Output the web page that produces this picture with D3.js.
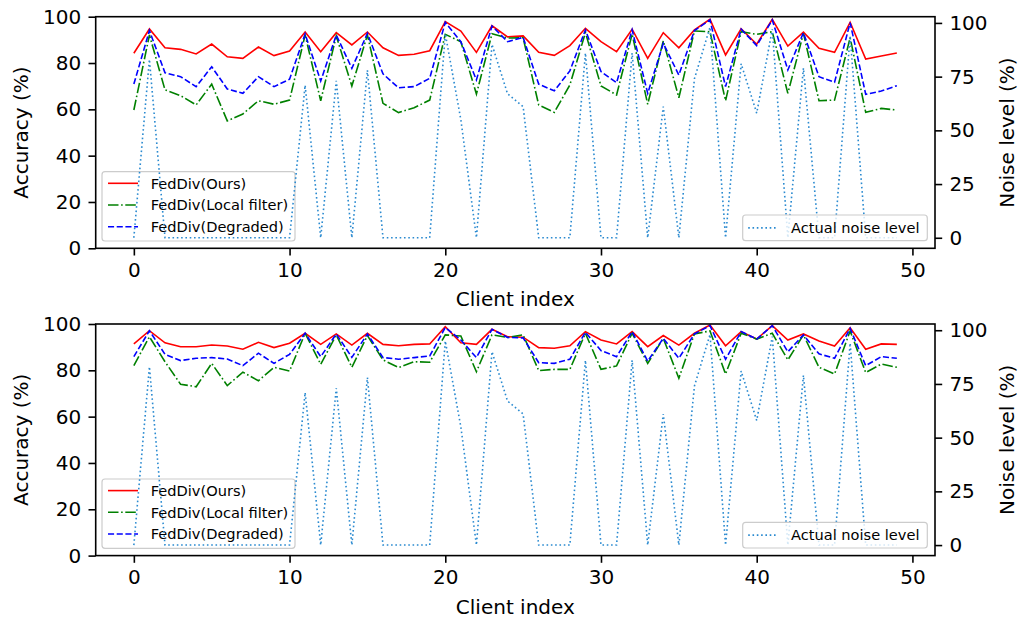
<!DOCTYPE html>
<html><head><meta charset="utf-8">
<script src="https://cdn.jsdelivr.net/npm/d3@7"></script>
<style>body{margin:0;background:#fff} text{font-family:"DejaVu Sans",sans-serif}</style>
</head><body><svg id="c" width="1023" height="622"></svg>
<script>
// ---------- data ----------
const clients = d3.range(50);
const xTicks = [0, 10, 20, 30, 40, 50];
const accTicks = [0, 20, 40, 60, 80, 100];
const noiseTicks = [0, 25, 50, 75, 100];
const seriesNames = ["FedDiv(Ours)", "FedDiv(Local filter)", "FedDiv(Degraded)"];
const noiseName = "Actual noise level";

const noiseLevel = [0,83,0,0,0,0,0,0,0,0, 0,71,0,73,0,78,0,0,0,0,
  95,55,0,90,67,61,0,0,0,86, 0,0,86,0,61,0,74,98,0,81,
  58,97,0,79,0,0,94,0,0,0];

const topOurs = [84.2,94.7,86.6,85.9,83.9,88.2,82.7,82.0,86.9,83.2,
  85.2,93.4,84.9,93.1,87.8,93.4,86.6,83.3,83.8,85.3,
  97.9,93.8,84.6,96.1,91.3,91.7,84.6,83.3,87.5,95.0,
  89.2,84.9,94.6,82.0,93.1,86.6,94.3,98.9,83.5,94.8,
  88.1,98.9,87.3,93.3,86.4,84.6,97.6,81.7,83.0,84.3];
const topLocal = [59.7,92.1,68.4,65.9,61.9,70.9,55.0,58.0,63.7,62.2,
  64.0,92.1,63.7,91.7,70.1,92.1,62.6,58.6,60.7,64.0,
  92.4,89.2,66.6,92.6,90.8,90.9,61.9,58.7,70.5,93.1,
  70.1,66.2,92.5,62.2,89.6,65.0,93.8,93.5,63.7,93.5,
  92.4,93.5,66.9,92.8,63.7,64.0,90.9,58.7,60.4,59.7];
const topDegraded = [70.9,94.0,75.8,74.1,69.8,78.4,68.8,66.9,74.1,69.8,
  73.0,92.5,72.2,92.1,77.7,92.8,75.3,69.3,69.8,73.4,
  97.6,89.2,72.7,96.0,89.2,91.1,70.9,68.0,76.6,94.3,
  76.3,71.5,94.3,66.9,88.5,74.8,94.0,98.6,69.8,94.6,
  87.5,98.6,77.0,93.1,74.1,71.7,97.4,66.5,67.9,70.2];

const bottomOurs = [91.4,97.1,91.9,90.2,90.2,90.9,90.5,89.1,92.1,89.8,
  91.7,96.0,91.2,95.7,90.9,96.0,91.2,90.6,91.2,91.4,
  98.8,91.9,91.2,97.7,94.5,94.3,89.8,89.5,90.6,96.7,
  93.1,91.4,96.7,90.2,95.0,90.9,96.0,99.6,90.6,96.7,
  93.5,99.3,93.1,95.7,92.7,90.5,98.4,89.1,91.4,91.2];
const bottomLocal = [82.0,94.5,83.7,74.0,72.9,83.0,73.4,79.2,75.5,81.3,
  79.7,96.0,82.6,95.3,81.3,95.0,84.5,81.2,83.7,83.5,
  95.3,94.8,79.4,95.3,94.2,95.3,79.9,80.4,80.4,96.0,
  80.4,81.9,96.0,83.0,93.8,76.6,95.7,97.0,78.4,96.0,
  93.5,96.0,84.5,95.3,81.3,78.4,97.0,79.0,82.7,81.3];
const bottomDegraded = [85.9,97.1,86.9,84.2,85.2,85.5,84.9,82.0,87.4,83.0,
  86.9,96.0,85.9,95.7,85.6,95.7,85.5,84.8,85.5,86.2,
  98.5,93.1,85.5,97.7,94.2,94.0,83.3,83.0,84.8,96.4,
  88.5,85.9,96.7,84.0,93.8,85.2,95.7,99.3,84.8,96.7,
  93.5,99.3,88.0,95.3,87.1,85.2,98.1,82.0,85.9,85.2];

// ---------- layout ----------
const W = 1023, H = 622;
const L = 95.7, R = 935, PH = 231.6;
const panels = [
  {top: 16.7, series: [topOurs, topLocal, topDegraded]},
  {top: 324.0, series: [bottomOurs, bottomLocal, bottomDegraded]}
];
const colors = ["#ff0000", "#008000", "#0000ff"];
const dashes = [null, "10.5,2.6,1.6,2.6", "6.1,2.6"];
const noiseColor = "#2a8ad0";
const noiseDash = "1.6,2.7";
const LW = 1.6;

const svg = d3.select("#c");
const pad = (x) => 0.05 * x;
const xExt = d3.extent(clients);
const x = d3.scaleLinear()
  .domain([xExt[0] - pad(xExt[1] - xExt[0]), xExt[1] + pad(xExt[1] - xExt[0])])
  .range([L, R]);
const nExt = d3.extent(noiseLevel);
const nDomain = [nExt[0] - pad(nExt[1] - nExt[0]), nExt[1] + pad(nExt[1] - nExt[0])];

function legendBox(g, x0, y0, w, h) {
  g.append("rect").attr("x", x0).attr("y", y0).attr("width", w).attr("height", h)
    .attr("rx", 3).attr("fill", "#fff").attr("fill-opacity", 0.8)
    .attr("stroke", "#cccccc").attr("stroke-width", 1.2);
}

panels.forEach((p) => {
  const top = p.top, bot = p.top + PH;
  const y = d3.scaleLinear().domain([0, 100]).range([bot, top]);
  const yn = d3.scaleLinear().domain(nDomain).range([bot, top]);
  const g = svg.append("g");

  // accuracy lines
  p.series.forEach((s, k) => {
    const line = d3.line().x((d, i) => x(clients[i])).y(d => y(d));
    g.append("path").datum(s).attr("d", line).attr("fill", "none")
      .attr("stroke", colors[k]).attr("stroke-width", LW)
      .attr("stroke-dasharray", dashes[k]).attr("stroke-linejoin", "miter");
  });

  // legend for accuracy
  const lg = g.append("g");
  const lx = 102, ly = top + 155, lw = 193, lh = 69.3;
  legendBox(lg, lx, ly, lw, lh);
  seriesNames.forEach((name, k) => {
    const cy = ly + 11.6 + k * 21.7;
    lg.append("line").attr("x1", lx + 6).attr("x2", lx + 36).attr("y1", cy).attr("y2", cy)
      .attr("stroke", colors[k]).attr("stroke-width", LW).attr("stroke-dasharray", dashes[k]);
    lg.append("text").attr("x", lx + 48.7).attr("y", cy).attr("dy", "0.36em")
      .attr("font-size", 14.6).attr("fill", "#000").text(name);
  });

  // noise line (twin axis, drawn above)
  const nline = d3.line().x((d, i) => x(clients[i])).y(d => yn(d));
  g.append("path").datum(noiseLevel).attr("d", nline).attr("fill", "none")
    .attr("stroke", noiseColor).attr("stroke-width", LW).attr("stroke-dasharray", noiseDash);

  // noise legend
  const ng = g.append("g");
  const nx = 742.7, ny = top + 198.3, nw = 184.6, nh = 25.7;
  legendBox(ng, nx, ny, nw, nh);
  const ncy = ny + nh / 2;
  ng.append("line").attr("x1", nx + 5.5).attr("x2", nx + 35.5).attr("y1", ncy).attr("y2", ncy)
    .attr("stroke", noiseColor).attr("stroke-width", LW).attr("stroke-dasharray", noiseDash);
  ng.append("text").attr("x", nx + 48.3).attr("y", ncy).attr("dy", "0.36em")
    .attr("font-size", 14.6).attr("fill", "#000").text(noiseName);

  // frame
  g.append("rect").attr("x", L).attr("y", top).attr("width", R - L).attr("height", PH)
    .attr("fill", "none").attr("stroke", "#000").attr("stroke-width", 1.6);

  // axes
  const ax = g.append("g").attr("transform", `translate(0,${bot})`)
    .call(d3.axisBottom(x).tickValues(xTicks).tickSizeInner(7.2).tickSizeOuter(0).tickPadding(7.2).tickFormat(d3.format("d")));
  const ayl = g.append("g").attr("transform", `translate(${L},0)`)
    .call(d3.axisLeft(y).tickValues(accTicks).tickSizeInner(7.2).tickSizeOuter(0).tickPadding(7.2).tickFormat(d3.format("d")));
  const ayr = g.append("g").attr("transform", `translate(${R},0)`)
    .call(d3.axisRight(yn).tickValues(noiseTicks).tickSizeInner(7.2).tickSizeOuter(0).tickPadding(7.2).tickFormat(d3.format("d")));
  [ax, ayl, ayr].forEach(a => {
    a.select(".domain").remove();
    a.selectAll(".tick line").attr("stroke", "#000").attr("stroke-width", 1.6);
    a.selectAll(".tick text").attr("font-size", 20).attr("fill", "#000")
      .attr("font-family", "DejaVu Sans");
  });

  // axis labels
  g.append("text").attr("x", (L + R) / 2).attr("y", bot + 58).attr("text-anchor", "middle")
    .attr("font-size", 20).attr("fill", "#000").text("Client index");
  g.append("text").attr("transform", `translate(28,${(top + bot) / 2}) rotate(-90)`)
    .attr("text-anchor", "middle").attr("font-size", 20).attr("fill", "#000").text("Accuracy (%)");
  g.append("text").attr("transform", `translate(1014,${(top + bot) / 2}) rotate(-90)`)
    .attr("text-anchor", "middle").attr("font-size", 20).attr("fill", "#000").text("Noise level (%)");
});
</script></body></html>
